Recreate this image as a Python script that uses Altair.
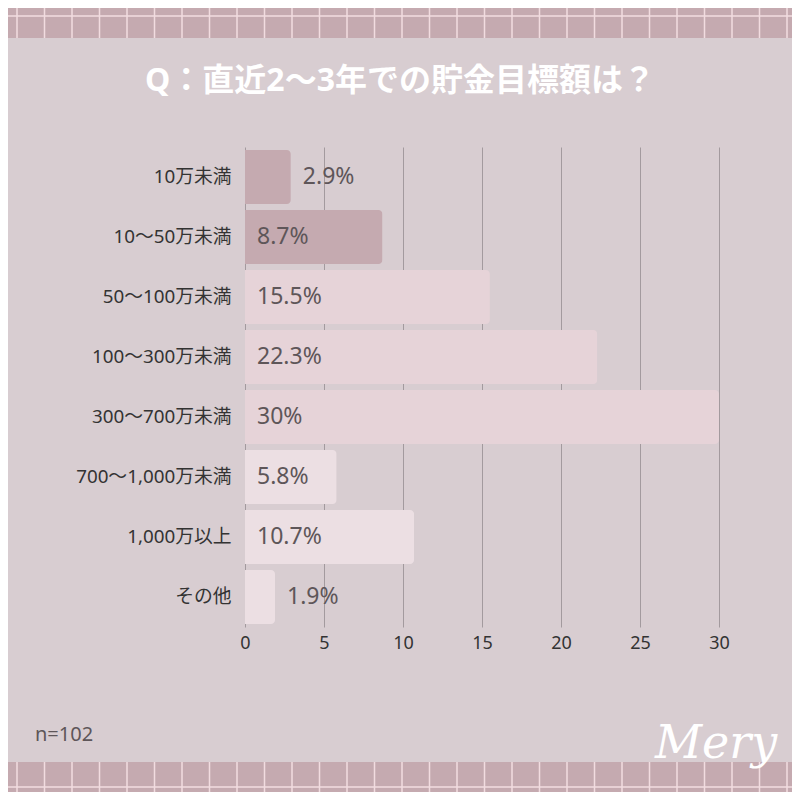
import altair as alt
import pandas as pd

# ---- data ----
categories = ["10万未満", "10〜50万未満", "50〜100万未満", "100〜300万未満",
              "300〜700万未満", "700〜1,000万未満", "1,000万以上", "その他"]
values = [2.9, 8.7, 15.5, 22.3, 30, 5.8, 10.7, 1.9]
x_ticks = [0, 5, 10, 15, 20, 25, 30]
title_text = "Q：直近2〜3年での貯金目標額は？"
note_text = "n=102"
brand_text = "Mery"

# ---- styles ----
FONT = "Noto Sans, Noto Sans CJK JP"
BG = "#d8cdd1"
BAND = "#c5aab0"
BAND_LINE = "#f2dce0"
bar_colors = ["#c5aab0", "#c5aab0", "#e6d3d8", "#e6d3d8", "#e6d3d8",
              "#ecdfe3", "#ecdfe3", "#ecdfe3"]

W, H = 474, 480          # plot area
PAD = {"left": 237, "top": 139, "right": 73, "bottom": 165}
OX, OY = 245, 147         # page position of plot origin

df = pd.DataFrame({"category": categories, "value": values})
one = pd.DataFrame({"d": [0]})

base = alt.Chart(df)

bars = base.mark_bar(cornerRadiusEnd=4).encode(
    y=alt.Y("category:N", sort=categories,
            scale=alt.Scale(paddingInner=0.1, paddingOuter=0.05),
            axis=alt.Axis(title=None, domain=False, ticks=False, labelPadding=14,
                          labelFontSize=18.8, labelColor="#333333", labelFont=FONT)),
    x=alt.X("value:Q", scale=alt.Scale(domain=[0, 30], nice=False),
            axis=alt.Axis(title=None, values=x_ticks, domain=False, ticks=False,
                          grid=True, gridColor="#a39a9e", gridWidth=1,
                          labelFontSize=18, labelColor="#333333", labelFont=FONT,
                          labelPadding=7, labelFlush=False)),
    color=alt.Color("category:N", scale=alt.Scale(domain=categories, range=bar_colors),
                    legend=None),
)

labels = base.transform_calculate(
    lx="datum.value < 5 ? datum.value : 0",
    txt="datum.value + '%'",
).mark_text(align="left", baseline="middle", dx=12, fontSize=23,
            font=FONT, color="#5e5659").encode(
    y=alt.Y("category:N", sort=categories),
    x=alt.X("lx:Q"),
    text="txt:N",
)

# ---- decorations (page frame) ----
def rect(y0, y1):
    return alt.Chart(one).mark_rect(color=BAND).encode(
        x=alt.value(-OX), x2=alt.value(800 - OX),
        y=alt.value(y0 - OY), y2=alt.value(y1 - OY))

top_band = rect(0, 38)
bot_band = rect(762, 800)

vlines = pd.DataFrame({"px": [17 + 27.5 * i - OX for i in range(29)]})

def vrules(y0, y1):
    return alt.Chart(vlines).mark_rule(color=BAND_LINE, strokeWidth=1.5).encode(
        x=alt.X("px:Q", scale=None), y=alt.value(y0 - OY), y2=alt.value(y1 - OY))

def hrule(yy):
    return alt.Chart(one).mark_rule(color=BAND_LINE, strokeWidth=1.5).encode(
        x=alt.value(-OX), x2=alt.value(800 - OX), y=alt.value(yy - OY))

title = alt.Chart(one).mark_text(
    text=title_text, font=FONT, fontSize=32, fontWeight="bold", color="white",
    align="center", baseline="middle").encode(
    x=alt.value(400 - OX), y=alt.value(81 - OY))

note = alt.Chart(one).mark_text(
    text=note_text, font=FONT, fontSize=20, color="#5e5659",
    align="left", baseline="middle").encode(
    x=alt.value(35 - OX), y=alt.value(735 - OY))

brand = alt.Chart(one).mark_text(
    text=brand_text, font="DejaVu Serif", fontSize=46, fontStyle="italic",
    color="white", align="left", baseline="alphabetic").encode(
    x=alt.value(655 - OX), y=alt.value(758 - OY))

chart = alt.layer(
    top_band, bot_band,
    vrules(0, 38), vrules(762, 800), hrule(16), hrule(787),
    bars, labels, title, note, brand,
).properties(
    width=W, height=H, padding=PAD,
    autosize=alt.AutoSizeParams(type="none"),
    background=BG,
).configure_view(stroke=None)

chart.save("out.html", embed_options={"renderer": "svg", "actions": False})
